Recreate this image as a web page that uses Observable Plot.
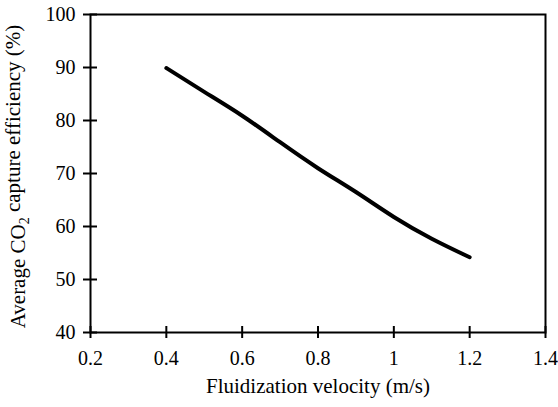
<!DOCTYPE html>
<html>
<head>
<meta charset="utf-8">
<script src="https://cdn.jsdelivr.net/npm/d3@7"></script>
<script src="https://cdn.jsdelivr.net/npm/@observablehq/plot@0.6"></script>
<style>
  html, body { margin: 0; padding: 0; background: #fff; }
  svg { display: block; }
</style>
</head>
<body>
<div id="chart"></div>
<script>
const velocity = [0.4, 0.5, 0.6, 0.7, 0.8, 0.9, 1.0, 1.1, 1.2];
const efficiency = [89.9, 85.4, 80.9, 75.9, 71.0, 66.5, 61.8, 57.7, 54.2];
const xTicks = [0.2, 0.4, 0.6, 0.8, 1.0, 1.2, 1.4];
const yTicks = [40, 50, 60, 70, 80, 90, 100];
const xLabel = "Fluidization velocity (m/s)";
const yLabelParts = ["Average CO", "2", " capture efficiency (%)"];

const data = velocity.map((v, i) => ({v, e: efficiency[i]}));
const font = "Liberation Serif, Times New Roman, serif";

const chart = Plot.plot({
  width: 558,
  height: 407,
  marginLeft: 90,
  marginRight: 13,
  marginTop: 14,
  marginBottom: 75,
  style: {fontFamily: font, fontSize: "20px", color: "black", background: "white"},
  x: {domain: [0.2, 1.4]},
  y: {domain: [40, 100]},
  marks: [
    Plot.frame({stroke: "black", strokeWidth: 2}),
    Plot.axisX({ticks: xTicks, tickSize: 6, tickPadding: 12, strokeWidth: 2, fontSize: 20, tickFormat: d => String(+d.toFixed(1)), label: null}),
    Plot.axisX({ticks: xTicks, tickSize: 6, dy: -6, strokeWidth: 2, tickFormat: () => "", label: null}),
    Plot.axisY({ticks: yTicks, tickSize: 7, tickPadding: 8, strokeWidth: 2, fontSize: 20, label: null}),
    Plot.axisY({ticks: yTicks, tickSize: 7, dx: 7, strokeWidth: 2, tickFormat: () => "", label: null}),
    Plot.line(data, {x: "v", y: "e", stroke: "black", strokeWidth: 4, curve: "natural"}),
    Plot.text([xLabel], {frameAnchor: "bottom", dy: 54, text: d => d, fontSize: 21, lineAnchor: "middle", textAnchor: "middle"}),
    Plot.text([yLabelParts.join("")], {frameAnchor: "left", dx: -72, dy: 3, rotate: -90, text: d => d, fontSize: 21, lineAnchor: "middle", textAnchor: "middle"})
  ]
});

// subscript for CO2
d3.select(chart).selectAll("text").each(function() {
  if (this.textContent === yLabelParts.join("")) {
    const t = d3.select(this);
    t.text("");
    t.append("tspan").text(yLabelParts[0]);
    t.append("tspan").attr("dy", "0.3em").attr("font-size", "14px").text(yLabelParts[1]);
    t.append("tspan").attr("dy", "-0.45em").text(yLabelParts[2]);
  }
});

document.getElementById("chart").appendChild(chart);
</script>
</body>
</html>
